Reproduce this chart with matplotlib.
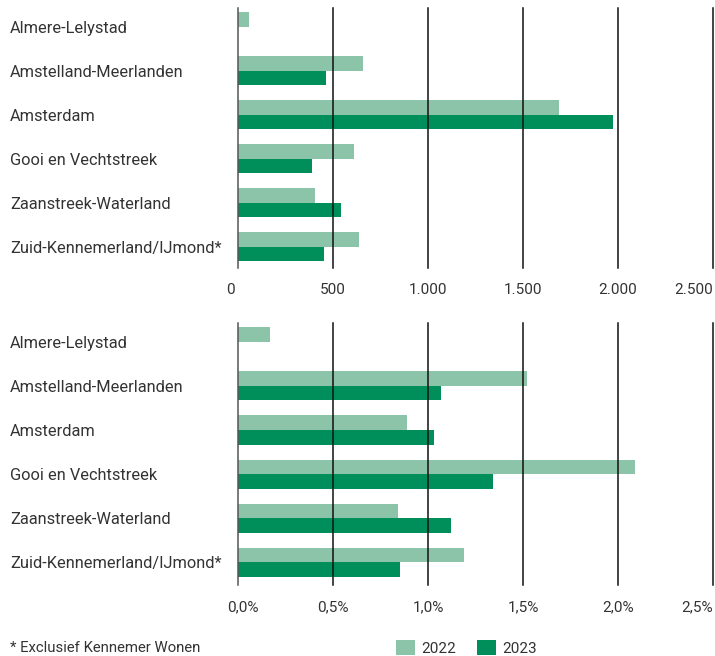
import matplotlib
matplotlib.use("Agg")
import matplotlib.pyplot as plt
from matplotlib.patches import Patch
from matplotlib.transforms import ScaledTranslation
import numpy as np

plt.rcParams['font.family'] = ['Roboto', 'DejaVu Sans']

regions = ["Almere-Lelystad", "Amstelland-Meerlanden", "Amsterdam",
           "Gooi en Vechtstreek", "Zaanstreek-Waterland", "Zuid-Kennemerland/IJmond*"]

# absolute numbers
count_2022 = [60, 660, 1690, 610, 405, 635]
count_2023 = [np.nan, 465, 1975, 390, 540, 455]
count_ticks = [0, 500, 1000, 1500, 2000, 2500]
count_tick_labels = ["0", "500", "1.000", "1.500", "2.000", "2.500"]

# share in percent
pct_2022 = [0.17, 1.52, 0.89, 2.09, 0.84, 1.19]
pct_2023 = [np.nan, 1.07, 1.03, 1.34, 1.12, 0.85]
pct_ticks = [0.0, 0.5, 1.0, 1.5, 2.0, 2.5]
pct_tick_labels = ["0,0%", "0,5%", "1,0%", "1,5%", "2,0%", "2,5%"]

years = ["2022", "2023"]
c22 = "#8cc4a9"
c23 = "#008f5a"
txt = "#333333"

W, H = 715, 656
fig = plt.figure(figsize=(W / 100, H / 100), dpi=100)


def panel(rect, v22, v23, ticks, ticklabels, ylim, first_shift):
    ax = fig.add_axes(rect)
    y = np.arange(len(regions))
    bh = 0.33
    ax.barh(y - bh / 2, v22, height=bh, color=c22, zorder=2)
    ax.barh(y + bh / 2, v23, height=bh, color=c23, zorder=2)
    ax.set_xlim(ticks[0], ticks[-1] * 1.002)
    ax.set_ylim(*ylim)
    for i, t in enumerate(ticks):
        ax.axvline(t, color="#555555" if i == 0 else "#111111", lw=1.1,
                   zorder=3, clip_on=False)
    ax.set_xticks(ticks)
    ax.set_xticklabels(ticklabels, color=txt, fontsize=11)
    ax.set_yticks(y)
    ax.set_yticklabels(regions, color=txt, fontsize=11.8, ha="left")
    ax.tick_params(axis="y", length=0, pad=164)
    ax.tick_params(axis="x", length=0, pad=11)
    xl = ax.get_xticklabels()
    xl[0].set_transform(xl[0].get_transform() +
                        ScaledTranslation(first_shift / 100, 0, fig.dpi_scale_trans))
    xl[-1].set_horizontalalignment("right")
    for s in ax.spines.values():
        s.set_visible(False)
    return ax


ax1 = panel([238 / W, 1 - 268 / H, 476 / W, 260 / H],
            count_2022, count_2023, count_ticks, count_tick_labels, (5.48, -0.43), -8)
ax2 = panel([238 / W, 1 - 585 / H, 476 / W, 262 / H],
            pct_2022, pct_2023, pct_ticks, pct_tick_labels, (5.52, -0.43), 5)

fig.text(10 / W, 1 - 648 / H, "* Exclusief Kennemer Wonen", color=txt,
         fontsize=10.7, va="center", ha="left")

handles = [Patch(facecolor=c22, edgecolor="none"), Patch(facecolor=c23, edgecolor="none")]
fig.legend(handles, years, loc="center left", bbox_to_anchor=(396 / W, 1 - 648 / H),
           ncol=2, frameon=False, fontsize=11, handlelength=1.25, handleheight=1.15,
           handletextpad=0.4, columnspacing=1.35, borderpad=0, borderaxespad=0,
           labelcolor=txt)

fig.savefig("out.png", dpi=100)
